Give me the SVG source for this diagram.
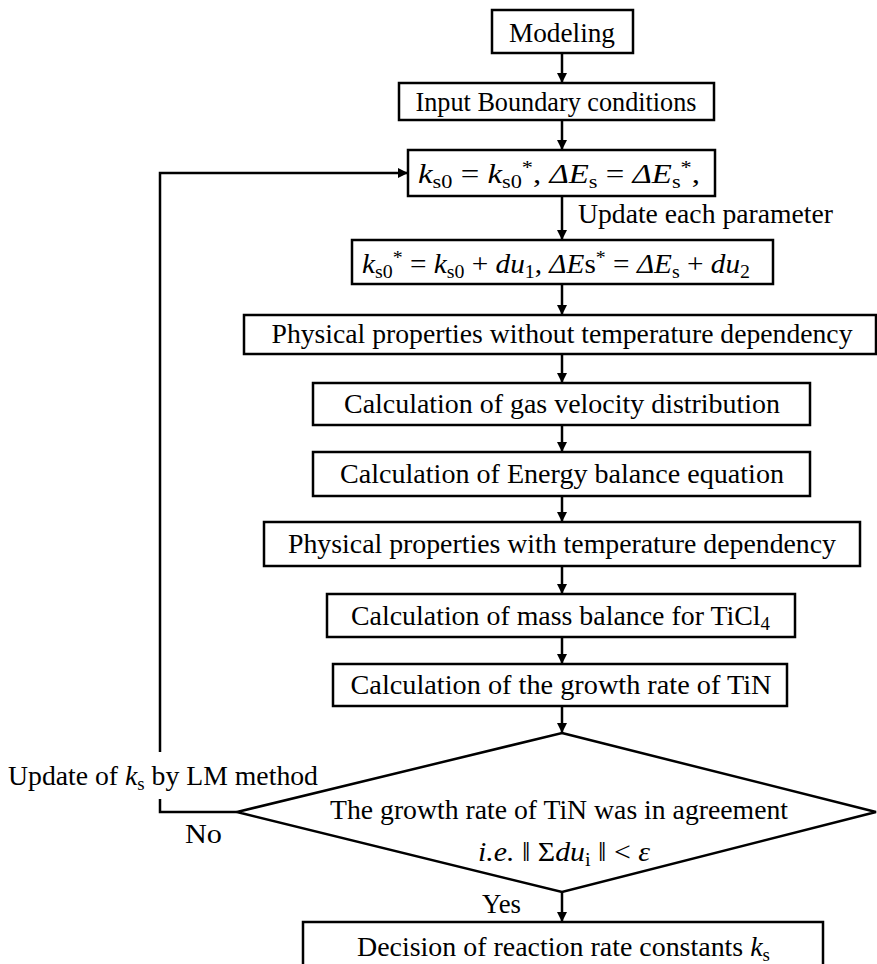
<svg xmlns="http://www.w3.org/2000/svg" width="877" height="964" viewBox="0 0 877 964">
<defs>
<marker id="ah" viewBox="0 0 10 10" refX="10" refY="5" markerWidth="10" markerHeight="10" markerUnits="userSpaceOnUse" orient="auto">
<path d="M0,0 L10,5 L0,10 Z" fill="#000"/>
</marker>
<style>
.b{fill:#fff;stroke:#000;stroke-width:2.5}
.c{fill:none;stroke:#000;stroke-width:2.5}
.a{marker-end:url(#ah)}
text{font-family:"Liberation Serif","Times New Roman",serif;font-size:28px;fill:#000}
.m{text-anchor:middle}
.i{font-style:italic}
.s{font-size:19px}
</style>
</defs>
<rect width="877" height="964" fill="#fff"/>
<g id="connectors">
<line class="c a" x1="562" y1="53" x2="562" y2="83"/>
<line class="c a" x1="562" y1="120" x2="562" y2="150"/>
<line class="c a" x1="562" y1="196" x2="562" y2="240"/>
<line class="c a" x1="562" y1="284" x2="562" y2="315"/>
<line class="c a" x1="562" y1="354" x2="562" y2="383"/>
<line class="c a" x1="562" y1="425" x2="562" y2="452"/>
<line class="c a" x1="562" y1="496" x2="562" y2="522"/>
<line class="c a" x1="562" y1="566" x2="562" y2="594"/>
<line class="c a" x1="562" y1="637" x2="562" y2="664"/>
<line class="c a" x1="562" y1="706" x2="562" y2="733"/>
<line class="c a" x1="562" y1="892" x2="562" y2="922"/>
<polyline class="c" points="237,812 160,812 160,799"/>
<polyline class="c a" points="160,752 160,173 408,173"/>
<text x="578" y="223" textLength="255" lengthAdjust="spacingAndGlyphs">Update each parameter</text>
<text x="8" y="785" textLength="310" lengthAdjust="spacingAndGlyphs">Update of <tspan class="i">k</tspan><tspan class="s" dy="5">s</tspan><tspan dy="-5"> by LM method</tspan></text>
<text x="185" y="843" textLength="37" lengthAdjust="spacingAndGlyphs">No</text>
<text x="482" y="913" textLength="39" lengthAdjust="spacingAndGlyphs">Yes</text>
</g>
<g id="n1"><rect class="b" x="492" y="10" width="141" height="43"/><text class="m" x="562" y="42" textLength="106" lengthAdjust="spacingAndGlyphs">Modeling</text></g>
<g id="n2"><rect class="b" x="399" y="83" width="315" height="37"/><text class="m" x="556" y="111" textLength="281" lengthAdjust="spacingAndGlyphs">Input Boundary conditions</text></g>
<g id="n3"><rect class="b" x="408" y="150" width="307" height="46"/><text x="418" y="183" textLength="282" lengthAdjust="spacingAndGlyphs"><tspan class="i">k</tspan><tspan class="s" dy="5">s0</tspan><tspan dy="-5"> = </tspan><tspan class="i">k</tspan><tspan class="s" dy="5">s0</tspan><tspan class="s" dy="-14">*</tspan><tspan dy="9">, </tspan><tspan class="i">ΔE</tspan><tspan class="s" dy="5">s</tspan><tspan dy="-5"> = </tspan><tspan class="i">ΔE</tspan><tspan class="s" dy="5">s</tspan><tspan class="s" dy="-14">*</tspan><tspan dy="9">,</tspan></text></g>
<g id="n4"><rect class="b" x="352" y="240" width="421" height="44"/><text x="362" y="273" textLength="388" lengthAdjust="spacingAndGlyphs"><tspan class="i">k</tspan><tspan class="s" dy="5">s0</tspan><tspan class="s" dy="-14">*</tspan><tspan dy="9"> = </tspan><tspan class="i">k</tspan><tspan class="s" dy="5">s0</tspan><tspan dy="-5"> + </tspan><tspan class="i">du</tspan><tspan class="s" dy="5">1</tspan><tspan dy="-5">, </tspan><tspan class="i">ΔE</tspan><tspan>s</tspan><tspan class="s" dy="-9">*</tspan><tspan dy="9"> = </tspan><tspan class="i">ΔE</tspan><tspan class="s" dy="5">s</tspan><tspan dy="-5"> + </tspan><tspan class="i">du</tspan><tspan class="s" dy="5">2</tspan></text></g>
<g id="n5"><rect class="b" x="244" y="315" width="632" height="39"/><text class="m" x="562" y="343" textLength="581" lengthAdjust="spacingAndGlyphs">Physical properties without temperature dependency</text></g>
<g id="n6"><rect class="b" x="313" y="383" width="497" height="42"/><text class="m" x="562" y="413" textLength="436" lengthAdjust="spacingAndGlyphs">Calculation of gas velocity distribution</text></g>
<g id="n7"><rect class="b" x="313" y="452" width="497" height="44"/><text class="m" x="562" y="483" textLength="444" lengthAdjust="spacingAndGlyphs">Calculation of Energy balance equation</text></g>
<g id="n8"><rect class="b" x="264" y="522" width="596" height="44"/><text class="m" x="562" y="553" textLength="548" lengthAdjust="spacingAndGlyphs">Physical properties with temperature dependency</text></g>
<g id="n9"><rect class="b" x="327" y="594" width="468" height="43"/><text x="351" y="625" textLength="419" lengthAdjust="spacingAndGlyphs">Calculation of mass balance for TiCl<tspan class="s" dy="5">4</tspan></text></g>
<g id="n10"><rect class="b" x="333" y="664" width="454" height="42"/><text class="m" x="561" y="694" textLength="421" lengthAdjust="spacingAndGlyphs">Calculation of the growth rate of TiN</text></g>
<g id="n11"><polygon class="b" points="562,733 876,812 562,892 237,812"/><text class="m" x="559" y="819" textLength="458" lengthAdjust="spacingAndGlyphs">The growth rate of TiN was in agreement</text><text x="478" y="861" textLength="172" lengthAdjust="spacingAndGlyphs"><tspan class="i">i.e.</tspan> ‖ Σ<tspan class="i">du</tspan><tspan class="s" dy="5">i</tspan><tspan dy="-5"> ‖ &lt; </tspan><tspan class="i">ε</tspan></text></g>
<g id="n12"><rect class="b" x="303" y="922" width="520" height="46"/><text x="357" y="956" textLength="413" lengthAdjust="spacingAndGlyphs">Decision of reaction rate constants <tspan class="i">k</tspan><tspan class="s" dy="5">s</tspan></text></g>
</svg>
